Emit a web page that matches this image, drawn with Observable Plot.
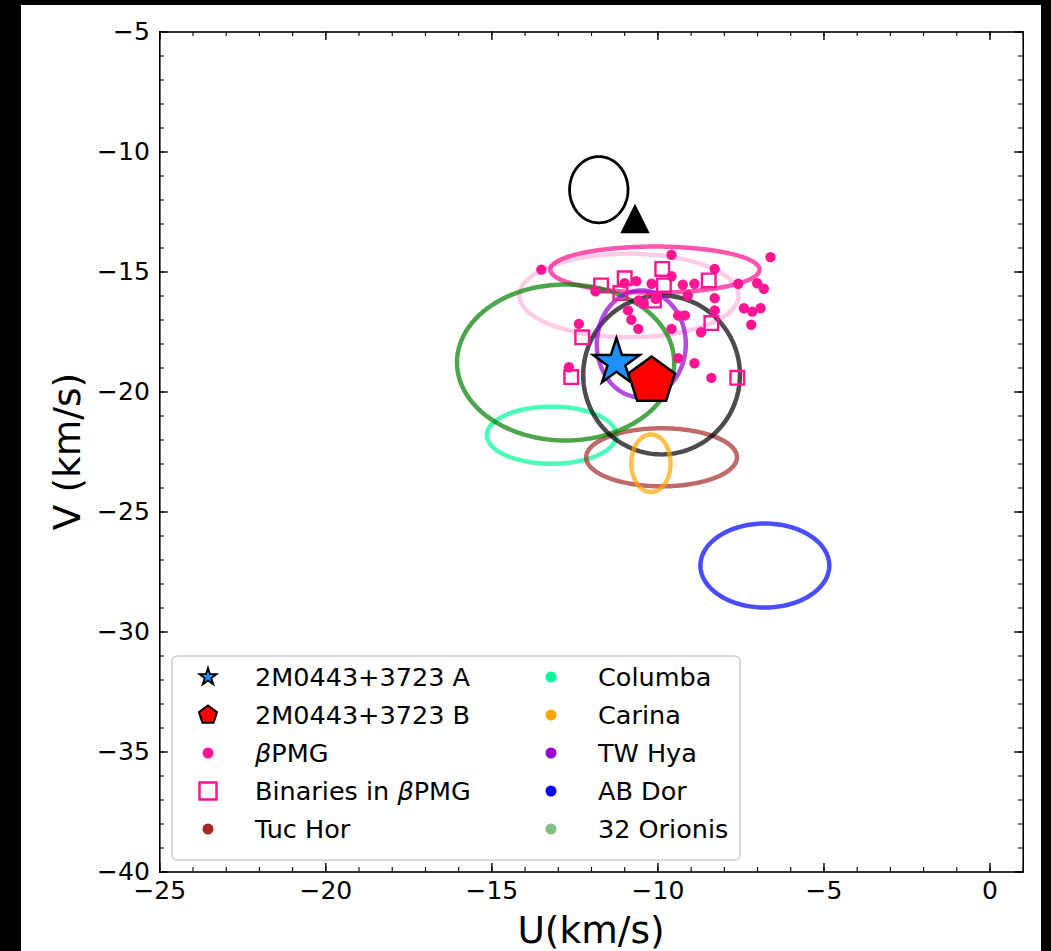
<!DOCTYPE html>
<html><head><meta charset="utf-8">
<script src="https://cdn.jsdelivr.net/npm/d3@7"></script>
<script src="https://cdn.jsdelivr.net/npm/@observablehq/plot@0.6"></script>
<style>
html,body{margin:0;padding:0;background:#000;width:1051px;height:951px;overflow:hidden}
#fig{position:absolute;left:21px;top:5px;width:1020px;height:946px;background:#fff}
svg{font-family:"DejaVu Sans",sans-serif}
</style></head><body><div id="fig"></div>
<script>
// ---- data (km/s) ----
const xTicks = [-25, -20, -15, -10, -5, 0];
const yTicks = [-40, -35, -30, -25, -20, -15, -10, -5];
const xMinorTicks = [-25,-24,-23,-22,-21,-20,-19,-18,-17,-16,-15,-14,-13,-12,-11,-10,-9,-8,-7,-6,-5,-4,-3,-2,-1,0,1];
const yMinorTicks = [-40,-39,-38,-37,-36,-35,-34,-33,-32,-31,-30,-29,-28,-27,-26,-25,-24,-23,-22,-21,-20,-19,-18,-17,-16,-15,-14,-13,-12,-11,-10,-9,-8,-7,-6,-5];

// βPMG members
const bpmgU = [-13.51,-11.88,-11.00,-10.65,-10.19,-10.58,-10.43,-10.07,-10.90,-10.80,-12.38,-10.59,-9.59,-6.61,-8.29,-9.59,-9.25,-8.90,-7.58,-7.01,-6.81,-9.10,-8.29,-7.41,-7.16,-6.91,-8.29,-9.39,-9.19,-7.19,-9.59,-8.70,-9.39,-8.90,-12.68,-8.39];
const bpmgV = [-14.90,-15.80,-15.47,-15.38,-15.49,-16.19,-16.33,-16.12,-16.60,-16.99,-17.16,-17.37,-14.28,-14.38,-14.87,-15.18,-15.53,-15.49,-15.49,-15.47,-15.70,-15.98,-16.09,-16.51,-16.65,-16.51,-16.60,-16.81,-16.81,-17.20,-17.37,-17.51,-18.59,-18.80,-18.97,-19.41];
// binaries in βPMG
const binU = [-11.71,-11.00,-11.13,-10.12,-9.87,-9.82,-8.47,-8.39,-12.28,-12.61,-7.61];
const binV = [-15.56,-15.26,-15.88,-16.19,-14.87,-15.56,-15.35,-17.13,-17.72,-19.38,-19.41];

// the binary components and the triangle
const starA = {u: -11.25, v: -18.77};
const starB = {u: -10.19, v: -19.54};
const triangle = {u: -10.69, v: -12.77};

// group ellipses: centre and semi-axes (km/s)
const ellName = ["BPMG2","BPMG1","Columba","TucHor","32Ori","Gray","Carina","TWHya","ABDor","Black"];
const ellU  = [-10.87,-10.09,-13.20,-9.89,-12.78,-9.89,-10.21,-10.50,-6.78,-11.78];
const ellV  = [-15.98,-14.90,-21.80,-22.72,-18.77,-19.29,-22.97,-18.00,-27.23,-11.57];
const ellRU = [3.30,3.15,1.95,2.27,3.27,2.36,0.59,1.34,1.94,0.88];
const ellRV = [1.74,0.96,1.19,1.21,3.25,3.31,1.20,2.23,1.75,1.38];

// legend labels
const legendCol1 = ["2M0443+3723 A","2M0443+3723 B","βPMG","Binaries in βPMG","Tuc Hor"];
const legendCol2 = ["Columba","Carina","TW Hya","AB Dor","32 Orionis"];

// ---- styles ----
const ellStyle = {
  BPMG2:  {c:"#ff1493", o:0.22, w:4.5},
  BPMG1:  {c:"#ff1493", o:0.72, w:4.5},
  Columba:{c:"#00fa9a", o:0.7, w:4.5},
  TucHor: {c:"#a52a2a", o:0.7, w:4.5},
  "32Ori":{c:"#008000", o:0.7, w:4.5},
  Gray:   {c:"#000000", o:0.7, w:4.5},
  Carina: {c:"#ffa500", o:0.7, w:4.5},
  TWHya:  {c:"#9400d3", o:0.7, w:4.5},
  ABDor:  {c:"#0000ff", o:0.7, w:4.5},
  Black:  {c:"#000000", o:1, w:2.8}
};

// custom marker shapes (size = π r²)
function rOf(size){return Math.sqrt(size/Math.PI);}
const starSym = {draw(ctx,size){const R=rOf(size),r=R*0.381966;for(let i=0;i<10;i++){const a=-Math.PI/2+i*Math.PI/5,rr=i%2?r:R;const x=rr*Math.cos(a),y=rr*Math.sin(a);i?ctx.lineTo(x,y):ctx.moveTo(x,y);}ctx.closePath();}};
const pentSym = {draw(ctx,size){const R=rOf(size);for(let i=0;i<5;i++){const a=-Math.PI/2+i*2*Math.PI/5;const x=R*Math.cos(a),y=R*Math.sin(a);i?ctx.lineTo(x,y):ctx.moveTo(x,y);}ctx.closePath();}};
const triSym = {draw(ctx,size){const R=rOf(size);ctx.moveTo(0,-R);ctx.lineTo(R,R);ctx.lineTo(-R,R);ctx.closePath();}};
const sqSym = {draw(ctx,size){const R=rOf(size);ctx.moveTo(-R,-R);ctx.lineTo(R,-R);ctx.lineTo(R,R);ctx.lineTo(-R,R);ctx.closePath();}};

const W = 1020, H = 946;
const mL = 138.3, mR = 18.3, mT = 26.5, mB = 79.5;
const pW = W - mL - mR, pH = H - mT - mB;

const fmt = d => d < 0 ? "\u2212" + Math.abs(d) : String(d);

const bpmg = bpmgU.map((u,i)=>({u, v:bpmgV[i]}));
const bins = binU.map((u,i)=>({u, v:binV[i]}));
const angles = d3.range(0, 360, 2).map(a => a*Math.PI/180);
const ellMarks = ellName.map((n,i) => {
  const s = ellStyle[n];
  const pts = angles.map(t => ({u: ellU[i] + ellRU[i]*Math.cos(t), v: ellV[i] + ellRV[i]*Math.sin(t)}));
  return Plot.line(pts, {x:"u", y:"v", curve:"linear-closed", stroke:s.c, strokeOpacity:s.o, strokeWidth:s.w});
});

const plot = Plot.plot({
  width: W, height: H,
  marginLeft: mL, marginRight: mR, marginTop: mT, marginBottom: mB,
  x: {domain: [-25, 1]},
  y: {domain: [-40, -5]},
  style: {fontFamily: "DejaVu Sans", background: "white", color: "black", overflow: "visible"},
  marks: [
    ...ellMarks,
    Plot.dot(bpmg, {x:"u", y:"v", r:5.2, fill:"#ff1493"}),
    Plot.dot(bins, {x:"u", y:"v", symbol: sqSym, r:6.8, fill:"none", stroke:"#ff1493", strokeWidth:2.4}),
    Plot.dot([triangle], {x:"u", y:"v", symbol: triSym, r:14.7, fill:"black", stroke:"none"}),
    Plot.dot([starA], {x:"u", y:"v", symbol: starSym, r:24.5, fill:"#1e90ff", stroke:"black", strokeWidth:2.5}),
    Plot.dot([starB], {x:"u", y:"v", symbol: pentSym, r:24.5, fill:"#ff0000", stroke:"black", strokeWidth:2.5}),
    // inward ticks on all four sides
    Plot.tickX(xTicks, {x: d=>d, insetTop: pH-8.5, strokeWidth:1.4}),
    Plot.tickX(xTicks, {x: d=>d, insetBottom: pH-8.5, strokeWidth:1.4}),
    Plot.tickX(xMinorTicks, {x: d=>d, insetTop: pH-4.5, strokeWidth:1.1}),
    Plot.tickX(xMinorTicks, {x: d=>d, insetBottom: pH-4.5, strokeWidth:1.1}),
    Plot.tickY(yTicks, {y: d=>d, insetRight: pW-8.5, strokeWidth:1.4}),
    Plot.tickY(yTicks, {y: d=>d, insetLeft: pW-8.5, strokeWidth:1.4}),
    Plot.tickY(yMinorTicks, {y: d=>d, insetRight: pW-4.5, strokeWidth:1.1}),
    Plot.tickY(yMinorTicks, {y: d=>d, insetLeft: pW-4.5, strokeWidth:1.1}),
    Plot.axisX({ticks: xTicks, tickSize: 0, tickPadding: 9, fontSize: 25, tickFormat: fmt, label: null}),
    Plot.axisY({ticks: yTicks, tickSize: 0, tickPadding: 10, fontSize: 25, tickFormat: fmt, label: null}),
    Plot.frame({stroke:"black", strokeWidth:1.6})
  ]
});
document.getElementById("fig").appendChild(plot);

const svg = d3.select(plot);
// axis titles
svg.append("text").attr("x", mL + pW/2).attr("y", 938).attr("text-anchor","middle")
  .attr("font-size", 37.5).attr("fill","black").text("U(km/s)");
svg.append("text").attr("transform", `translate(46,${mT + pH/2}) rotate(-90)`).attr("text-anchor","middle")
  .attr("dy","0.35em").attr("font-size", 37.5).attr("fill","black").text("V (km/s)");

// legend
const lg = svg.append("g").attr("text-anchor","start");
lg.append("rect").attr("x",151).attr("y",651).attr("width",568).attr("height",204).attr("rx",5)
  .attr("fill","white").attr("fill-opacity",0.8).attr("stroke","#cccccc").attr("stroke-width",1.5);
const rowY = i => 672 + i*38;
const sym = (s, r) => d3.symbol(s, Math.PI*r*r)();
const col1Marks = [
  g => g.append("path").attr("d", sym(starSym,9)).attr("fill","#1e90ff").attr("stroke","black").attr("stroke-width",1.8),
  g => g.append("path").attr("d", sym(pentSym,9.5)).attr("fill","#ff0000").attr("stroke","black").attr("stroke-width",2),
  g => g.append("circle").attr("r",5.5).attr("fill","#ff1493"),
  g => g.append("path").attr("d", sym(sqSym,8.5)).attr("fill","none").attr("stroke","#ff1493").attr("stroke-width",2.5),
  g => g.append("circle").attr("r",5.5).attr("fill","#a52a2a")
];
const col2Colors = ["#00fa9a","#ffa500","#9400d3","#0000ff","#7fbf7f"];
legendCol1.forEach((t,i) => {
  const g = lg.append("g").attr("transform",`translate(187,${rowY(i)})`);
  col1Marks[i](g);
  const tx = lg.append("text").attr("x",234).attr("y",rowY(i)).attr("dy","0.36em").attr("text-anchor","start").attr("font-size",25.5).attr("fill","black");
  if (t.includes("β")) {
    const parts = t.split("β");
    if (parts[0]) tx.append("tspan").text(parts[0]);
    tx.append("tspan").attr("font-style","italic").text("β");
    tx.append("tspan").text(parts[1]);
  } else tx.text(t);
});
legendCol2.forEach((t,i) => {
  lg.append("circle").attr("cx",530).attr("cy",rowY(i)).attr("r",5.5).attr("fill",col2Colors[i]);
  lg.append("text").attr("x",577).attr("y",rowY(i)).attr("dy","0.36em").attr("text-anchor","start").attr("font-size",25.5).attr("fill","black").text(t);
});
</script></body></html>
